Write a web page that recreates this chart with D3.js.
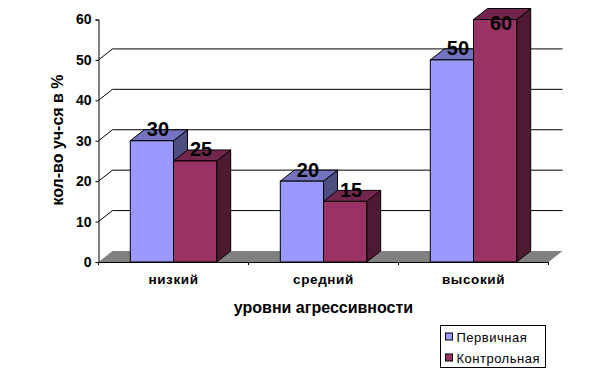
<!DOCTYPE html>
<html>
<head>
<meta charset="utf-8">
<script src="https://cdn.jsdelivr.net/npm/d3@7"></script>
<style>
  html, body { margin: 0; padding: 0; background: #fff; }
  svg { display: block; }
  text { font-family: "Liberation Sans", Arial, sans-serif; fill: #000; }
  .tick-label { font-size: 14px; font-weight: bold; }
  .cat-label { font-size: 13.5px; font-weight: bold; letter-spacing: 0.6px; }
  .axis-title { font-size: 16px; font-weight: bold; }
  .data-label { font-size: 20px; font-weight: bold; }
  .legend-label { font-size: 13px; letter-spacing: 0.5px; }
</style>
</head>
<body>
<div id="chart"></div>
<script>
const categories = ['низкий', 'средний', 'высокий'];
const seriesNames = ['Первичная', 'Контрольная'];
const firstValues = [30, 20, 50];
const controlValues = [25, 15, 60];
const yTicks = [0, 10, 20, 30, 40, 50, 60];

const seriesColors = [
  { front: '#9999ff', top: '#7373bf', side: '#4d4d80' },
  { front: '#993366', top: '#73264d', side: '#4d1933' }
];

const width = 603;
const height = 375;
const MARGIN_LEFT = 98.5;
const MARGIN_TOP = 19.5;
const PLOT_W = 450;
const PLOT_H = 242.5;
const DEPTH_X = 14;
const DEPTH_Y = -11;
const LABEL_MIN_Y = 10.5; // labels stay inside the chart area, so the 60 drops onto its bar

const $svg = d3.select('#chart').append('svg')
  .attr('width', width)
  .attr('height', height);

const scaleY = d3.scaleLinear().domain([0, 60]).range([PLOT_H, 0]);
const scaleX = d3.scaleBand().domain(categories).range([0, PLOT_W])
  .paddingInner(0.424).paddingOuter(0.212);
const scaleSeries = d3.scaleBand().domain(d3.range(seriesNames.length))
  .range([0, scaleX.bandwidth()]);

const $vis = $svg.append('g').attr('transform', `translate(${MARGIN_LEFT}, ${MARGIN_TOP})`);

// floor of the 3d box
$vis.append('polygon')
  .attr('points', [
    [0, PLOT_H],
    [DEPTH_X, PLOT_H + DEPTH_Y],
    [PLOT_W + DEPTH_X, PLOT_H + DEPTH_Y],
    [PLOT_W, PLOT_H]
  ].join(' '))
  .attr('fill', '#808080');

// grid on the back wall, no line for 0 and 60
const gridTicks = yTicks.filter(d => d > 0 && d < 60);
$vis.selectAll('.grid')
  .data(gridTicks)
  .join('path')
  .attr('class', 'grid')
  .attr('fill', 'none')
  .attr('stroke', '#000')
  .attr('d', d => `M0,${scaleY(d)}l${DEPTH_X},${DEPTH_Y}H${PLOT_W + DEPTH_X}`);

// bars, one group at a time so the later box covers the earlier side
const allValues = [firstValues, controlValues];
categories.forEach((cat, c) => {
  allValues.forEach((values, s) => {
    const x0 = scaleX(cat) + scaleSeries(s);
    const x1 = x0 + scaleSeries.bandwidth();
    const y0 = scaleY(values[c]);
    const y1 = scaleY(0);
    const $bar = $vis.append('g').attr('stroke', '#000').attr('stroke-width', 1);
    $bar.append('polygon')
      .attr('points', [[x1, y0], [x1 + DEPTH_X, y0 + DEPTH_Y], [x1 + DEPTH_X, y1 + DEPTH_Y], [x1, y1]].join(' '))
      .attr('fill', seriesColors[s].side);
    $bar.append('polygon')
      .attr('points', [[x0, y0], [x0 + DEPTH_X, y0 + DEPTH_Y], [x1 + DEPTH_X, y0 + DEPTH_Y], [x1, y0]].join(' '))
      .attr('fill', seriesColors[s].top);
    $bar.append('rect')
      .attr('x', x0)
      .attr('y', y0)
      .attr('width', x1 - x0)
      .attr('height', y1 - y0)
      .attr('fill', seriesColors[s].front);
  });
});

// value labels go on top of all bars
categories.forEach((cat, c) => {
  allValues.forEach((values, s) => {
    $vis.append('text')
      .attr('class', 'data-label')
      .attr('x', scaleX(cat) + scaleSeries(s) + scaleSeries.bandwidth() / 2 + 6)
      .attr('y', Math.max(scaleY(values[c]) - 4.5, LABEL_MIN_Y))
      .attr('text-anchor', 'middle')
      .text(values[c]);
  });
});

// axes
const axisY = d3.axisLeft(scaleY).tickValues(yTicks).tickSize(3).tickPadding(4);
const $axisY = $vis.append('g').call(axisY);
$axisY.selectAll('text').attr('class', 'tick-label');
$axisY.select('.domain').attr('stroke', '#000');

const axisX = d3.axisBottom(scaleX).tickSize(0).tickPadding(12);
const $axisX = $vis.append('g').attr('transform', `translate(0, ${PLOT_H})`).call(axisX);
$axisX.selectAll('text').attr('class', 'cat-label');
$axisX.select('.domain').attr('stroke', '#000');

// ticks sit between the categories
$axisX.selectAll('.cat-tick')
  .data(d3.range(categories.length + 1))
  .join('line')
  .attr('class', 'cat-tick')
  .attr('stroke', '#000')
  .attr('x1', d => d * scaleX.step())
  .attr('x2', d => d * scaleX.step())
  .attr('y1', 0)
  .attr('y2', 3);

// axis titles
$svg.append('text')
  .attr('class', 'axis-title')
  .attr('x', 323.5)
  .attr('y', 313)
  .attr('text-anchor', 'middle')
  .text('уровни агрессивности');

$svg.append('text')
  .attr('class', 'axis-title')
  .attr('transform', 'translate(63, 140) rotate(-90)')
  .attr('text-anchor', 'middle')
  .text('кол-во уч-ся в %');

// legend
const $legend = $svg.append('g').attr('transform', 'translate(440.5, 325.5)');
$legend.append('rect')
  .attr('width', 105)
  .attr('height', 42)
  .attr('fill', '#fff')
  .attr('stroke', '#000');
const $items = $legend.selectAll('.item')
  .data(seriesNames)
  .join('g')
  .attr('class', 'item')
  .attr('transform', (d, i) => `translate(5, ${7.5 + i * 21})`);
$items.append('rect')
  .attr('width', 7)
  .attr('height', 7)
  .attr('stroke', '#000')
  .attr('fill', (d, i) => seriesColors[i].front);
$items.append('text')
  .attr('class', 'legend-label')
  .attr('x', 11)
  .attr('y', 8.5)
  .text(d => d);
</script>
</body>
</html>
